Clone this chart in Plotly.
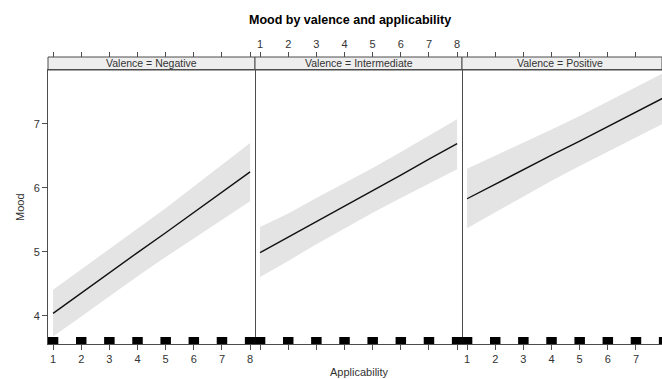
import plotly.graph_objects as go

W, H = 662, 379

applicability = [1, 2, 3, 4, 5, 6, 7, 8]
tick_labels = ["1", "2", "3", "4", "5", "6", "7", "8"]
panels = ["Valence = Negative", "Valence = Intermediate", "Valence = Positive"]

fit_negative = [4.04, 4.36, 4.67, 4.99, 5.30, 5.62, 5.93, 6.25]
lower_negative = [3.68, 3.99, 4.30, 4.62, 4.92, 5.22, 5.50, 5.79]
upper_negative = [4.41, 4.73, 5.04, 5.36, 5.68, 6.02, 6.36, 6.70]

fit_intermediate = [4.99, 5.23, 5.48, 5.72, 5.96, 6.20, 6.45, 6.69]
lower_intermediate = [4.61, 4.86, 5.12, 5.37, 5.61, 5.84, 6.07, 6.29]
upper_intermediate = [5.39, 5.60, 5.84, 6.07, 6.31, 6.56, 6.81, 7.07]

fit_positive = [5.83, 6.06, 6.28, 6.51, 6.73, 6.96, 7.18, 7.41]
lower_positive = [5.37, 5.62, 5.86, 6.11, 6.34, 6.57, 6.79, 7.01]
upper_positive = [6.30, 6.50, 6.70, 6.91, 7.12, 7.35, 7.58, 7.80]

y_ticks = [4, 5, 6, 7]
rug_values = [1, 2, 3, 4, 5, 6, 7, 8]

fits = [fit_negative, fit_intermediate, fit_positive]
lowers = [lower_negative, lower_intermediate, lower_positive]
uppers = [upper_negative, upper_intermediate, upper_positive]

FONT = "Liberation Sans, Arial, sans-serif"
AX = "#4d4d4d"
TXT = "#333333"

# geometry (pixels)
panel_px = [(48, 255), (255, 462), (462, 662)]
unit_px = 28.15
x_lo = 0.82
x_ranges = [[x_lo, x_lo + (b - a) / unit_px] for a, b in panel_px]
y_top_px, y_bot_px, strip_top_px = 70, 344, 57
y_range = [3.5625, 7.84]

def fx(px):
    return px / W

def fy(px):
    return 1 - px / H

ydom = [fy(y_bot_px), fy(y_top_px)]

fig = go.Figure()
rug_h = (y_range[1] - y_range[0]) * 7 / (y_bot_px - y_top_px)

for i in range(3):
    xa = "x" if i == 0 else f"x{i+1}"
    ya = "y" if i == 0 else f"y{i+1}"
    fig.add_trace(go.Scatter(
        x=applicability + applicability[::-1],
        y=uppers[i] + lowers[i][::-1],
        fill="toself", fillcolor="#e4e4e4", line=dict(width=0),
        mode="lines", hoverinfo="skip", showlegend=False, xaxis=xa, yaxis=ya))
    fig.add_trace(go.Scatter(
        x=applicability, y=fits[i], mode="lines",
        line=dict(color="#111111", width=1.4), showlegend=False,
        xaxis=xa, yaxis=ya))
    rx, ry = [], []
    for v in rug_values:
        rx += [v, v, None]
        ry += [y_range[0], y_range[0] + rug_h, None]
    fig.add_trace(go.Scatter(
        x=rx, y=ry, mode="lines", line=dict(color="black", width=10.5),
        showlegend=False, hoverinfo="skip", xaxis=xa, yaxis=ya))
    # invisible trace for top axis
    fig.add_trace(go.Scatter(
        x=[applicability[0]], y=[fits[i][0]], mode="markers",
        marker=dict(opacity=0), showlegend=False, hoverinfo="skip",
        xaxis=f"x{i+4}", yaxis=ya))

common_x = dict(
    tickmode="array", tickvals=applicability, ticktext=tick_labels,
    ticks="outside", ticklen=5, tickcolor=AX, tickwidth=1,
    showgrid=False, zeroline=False,
    tickfont=dict(family=FONT, size=11, color=TXT),
)

layout = dict(
    width=W, height=H, margin=dict(l=0, r=0, t=0, b=0),
    paper_bgcolor="white", plot_bgcolor="white", showlegend=False,
)

for i in range(3):
    sfx = "" if i == 0 else str(i + 1)
    a, b = panel_px[i]
    layout[f"xaxis{sfx}"] = dict(
        common_x, domain=[fx(a), fx(b)], range=x_ranges[i],
        anchor=f"y{sfx}", showline=True, linecolor=AX, linewidth=1, mirror=True,
        showticklabels=(i != 1))
    layout[f"yaxis{sfx}"] = dict(
        domain=ydom, range=y_range, anchor=f"x{sfx}",
        side="left" if i == 0 else "right",
        showline=True, linecolor=AX, linewidth=1, mirror=(i == 0),
        showgrid=False, zeroline=False,
        tickmode="array", tickvals=y_ticks,
        ticks="outside" if i == 0 else "", ticklen=5, tickcolor=AX,
        showticklabels=(i == 0),
        tickfont=dict(family=FONT, size=11, color=TXT))
    layout[f"xaxis{i+4}"] = dict(
        common_x, overlaying=("x" if i == 0 else f"x{i+1}"), side="top",
        anchor="free", position=fy(strip_top_px), range=x_ranges[i],
        showline=False, showticklabels=(i == 1))

fig.update_layout(**layout)

shapes = []
annotations = []
for i in range(3):
    a, b = panel_px[i]
    shapes.append(dict(type="rect", xref="paper", yref="paper",
                       x0=fx(a), x1=fx(b), y0=fy(y_top_px), y1=fy(strip_top_px),
                       fillcolor="#eeeeee", line=dict(color=AX, width=1), layer="below"))
strip_centers = [151.5, 358.5, 560]
for i in range(3):
    annotations.append(dict(
        text=panels[i], xref="paper", yref="paper",
        x=fx(strip_centers[i]), y=fy((y_top_px + strip_top_px) / 2),
        showarrow=False, xanchor="center", yanchor="middle",
        font=dict(family=FONT, size=10.5, color=TXT)))

annotations.append(dict(text="<b>Mood by valence and applicability</b>",
                        xref="paper", yref="paper", x=fx(350), y=fy(20),
                        showarrow=False, xanchor="center", yanchor="middle",
                        font=dict(family=FONT, size=12.5, color="black")))
annotations.append(dict(text="Applicability", xref="paper", yref="paper",
                        x=fx(359), y=fy(372), showarrow=False,
                        xanchor="center", yanchor="middle",
                        font=dict(family=FONT, size=11, color=TXT)))
annotations.append(dict(text="Mood", xref="paper", yref="paper",
                        x=fx(20), y=fy(207), showarrow=False, textangle=-90,
                        xanchor="center", yanchor="middle",
                        font=dict(family=FONT, size=11, color=TXT)))

fig.update_layout(shapes=shapes, annotations=annotations)
fig.write_html("out.html", config={"displayModeBar": False},
               post_script="document.body.style.margin='0';document.body.style.overflow='hidden';")
